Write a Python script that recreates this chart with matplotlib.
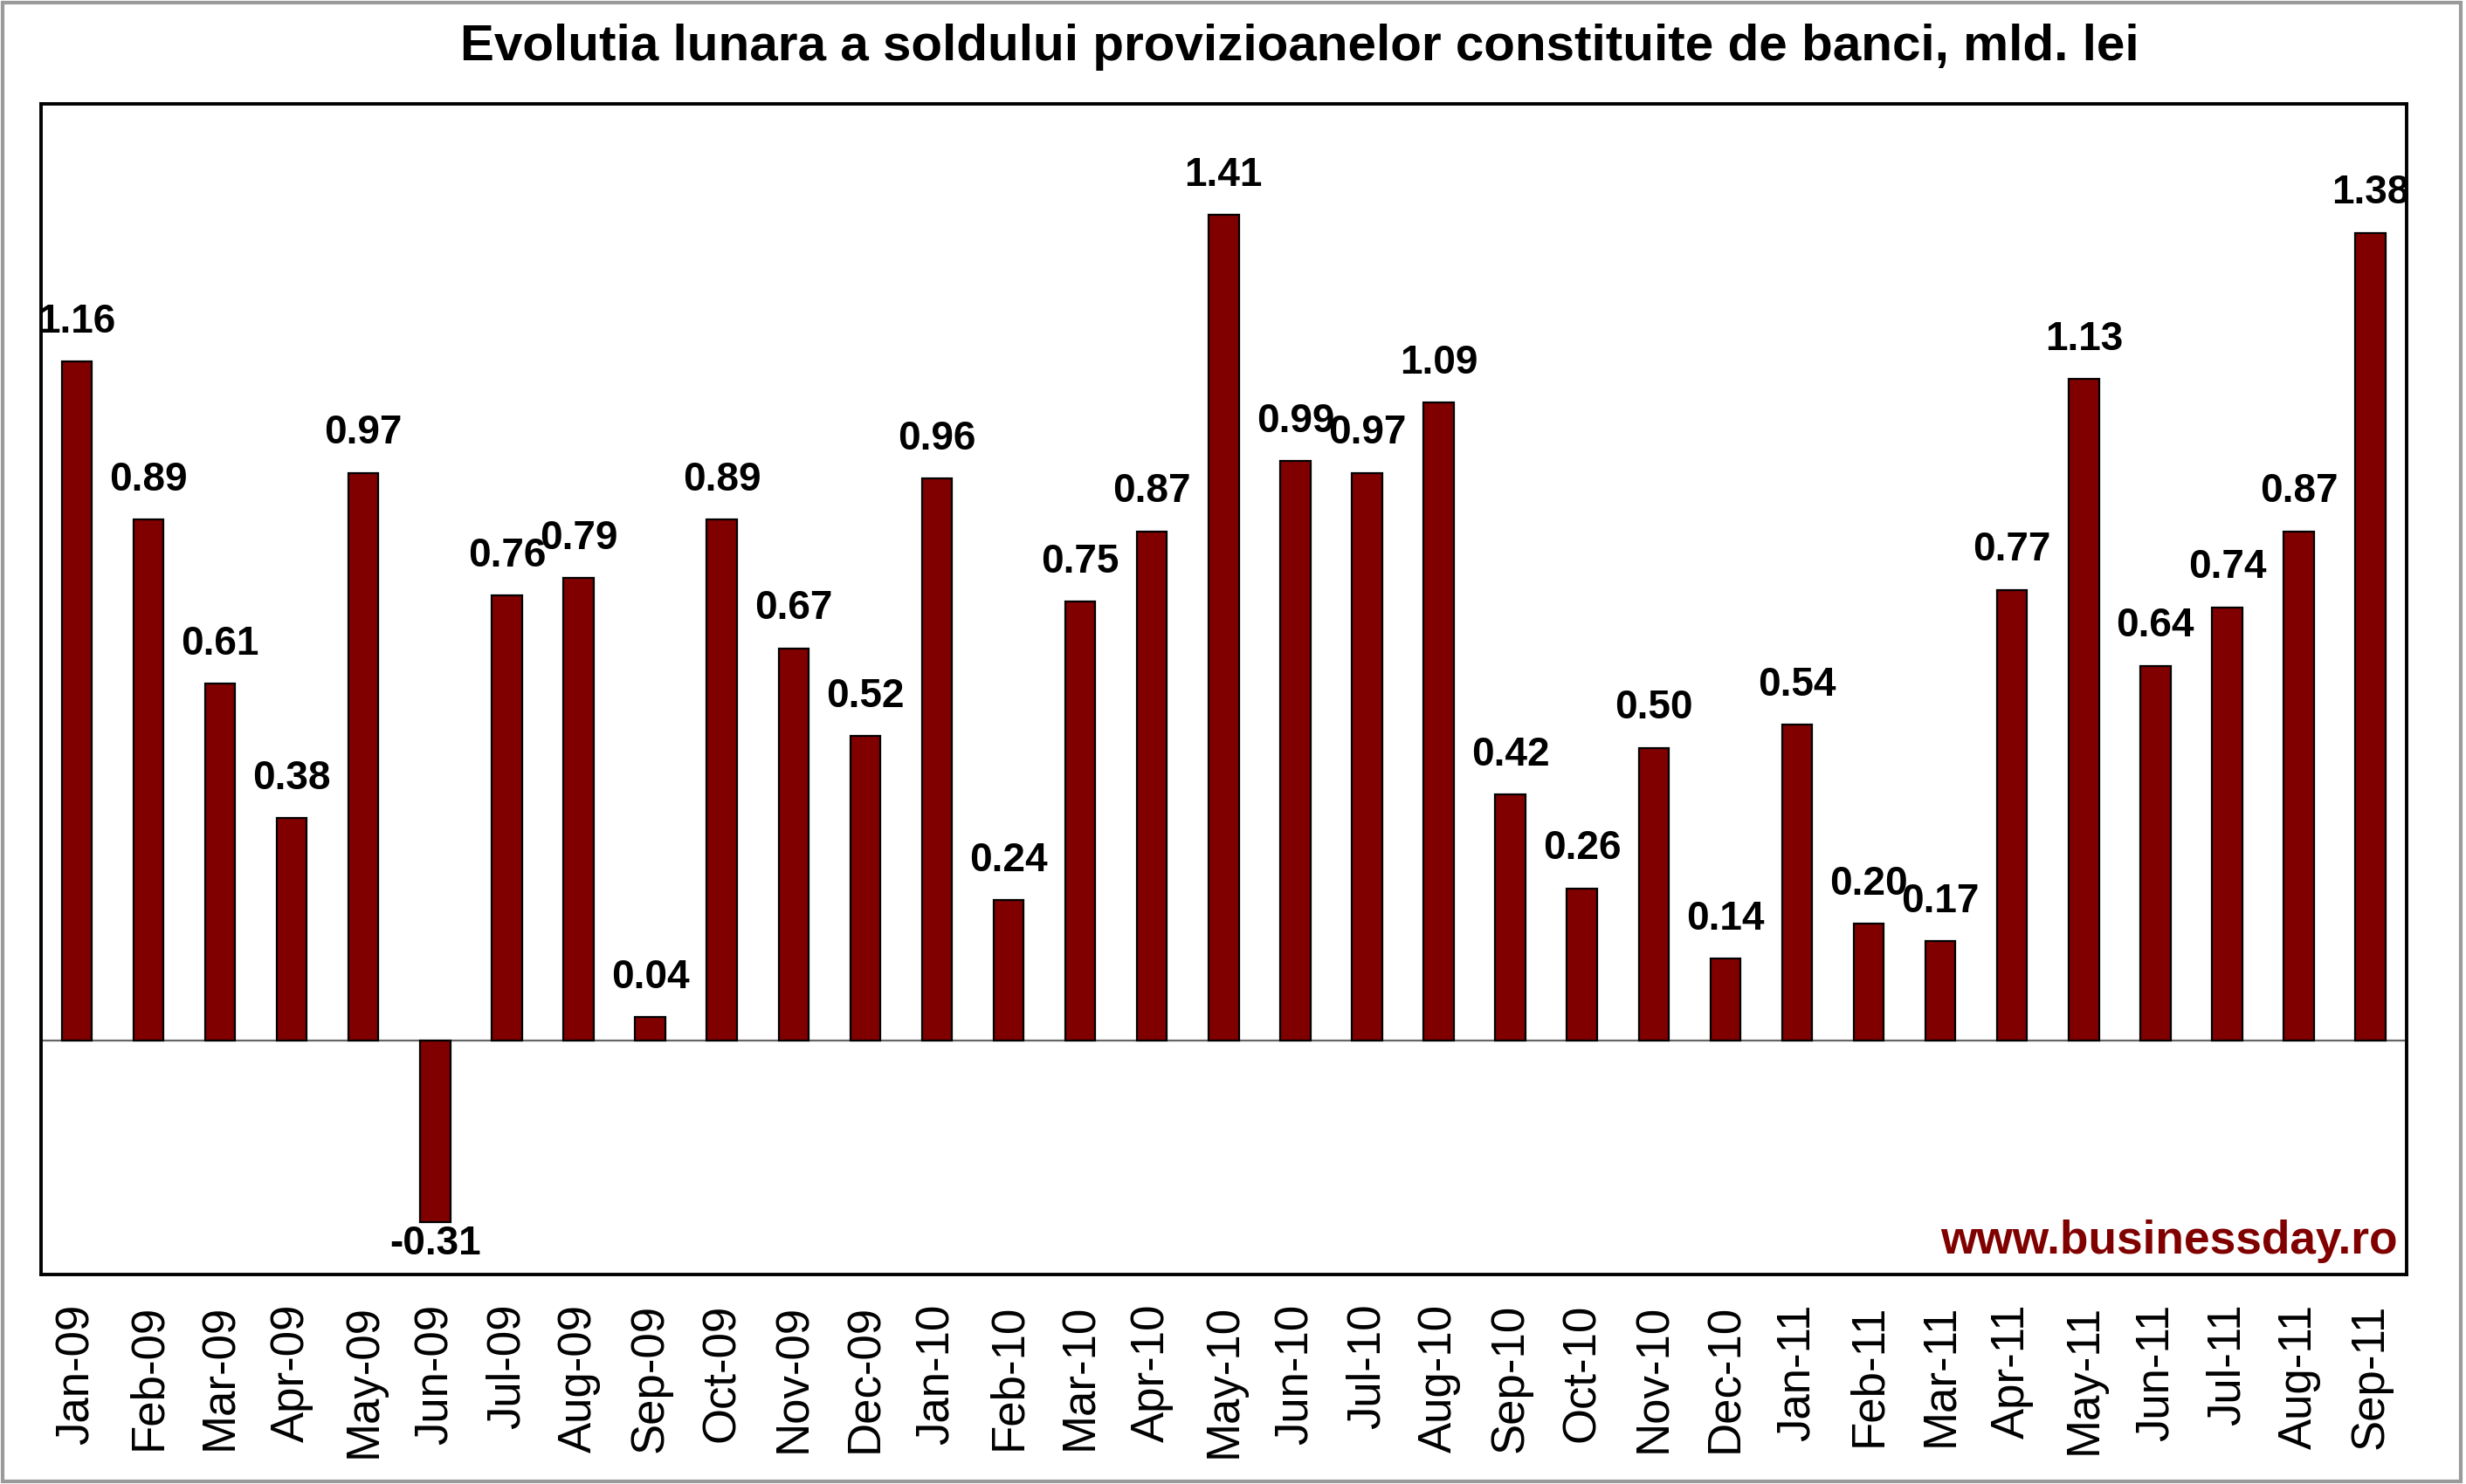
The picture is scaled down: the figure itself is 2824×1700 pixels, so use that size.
import matplotlib
matplotlib.use("Agg")
import matplotlib.pyplot as plt
from matplotlib.patches import Rectangle

plt.rcParams['font.family'] = ['Liberation Sans', 'DejaVu Sans']

# date
luni = ['Jan-09', 'Feb-09', 'Mar-09', 'Apr-09', 'May-09', 'Jun-09', 'Jul-09', 'Aug-09',
        'Sep-09', 'Oct-09', 'Nov-09', 'Dec-09', 'Jan-10', 'Feb-10', 'Mar-10', 'Apr-10',
        'May-10', 'Jun-10', 'Jul-10', 'Aug-10', 'Sep-10', 'Oct-10', 'Nov-10', 'Dec-10',
        'Jan-11', 'Feb-11', 'Mar-11', 'Apr-11', 'May-11', 'Jun-11', 'Jul-11', 'Aug-11',
        'Sep-11']
provizioane = [1.16, 0.89, 0.61, 0.38, 0.97, -0.31, 0.76, 0.79,
               0.04, 0.89, 0.67, 0.52, 0.96, 0.24, 0.75, 0.87,
               1.41, 0.99, 0.97, 1.09, 0.42, 0.26, 0.50, 0.14,
               0.54, 0.20, 0.17, 0.77, 1.13, 0.64, 0.74, 0.87,
               1.38]

fig = plt.figure(figsize=(14.12, 8.5), dpi=200)
ax = fig.add_axes([0.0166, 0.141, 0.9592, 0.789])

x = list(range(len(luni)))
bars = ax.bar(x, provizioane, width=0.42, color='#800000', edgecolor='black', linewidth=0.8, zorder=3)
ax.axhline(0, color='#666666', linewidth=0.8, zorder=2)

# etichete cu valori
for xi, v in zip(x, provizioane):
    if v >= 0:
        ax.annotate(f"{v:.2f}", (xi, v), xytext=(0, 12), textcoords='offset points',
                    ha='center', va='baseline', fontsize=16.5, fontweight='bold', zorder=4)
    else:
        ax.annotate(f"{v:.2f}", (xi, v), xytext=(0, -1), textcoords='offset points',
                    ha='center', va='top', fontsize=16.5, fontweight='bold', zorder=4)

ax.set_xlim(-0.5, len(luni) - 0.5)
ax.set_ylim(-0.4, 1.6)
ax.set_yticks([])
ax.set_xticks(x)
ax.set_xticklabels(luni, rotation=90, fontsize=19)
ax.tick_params(axis='x', length=0, pad=12)
for s in ax.spines.values():
    s.set_linewidth(1.4)
    s.set_color('black')

ax.text(0.9965, 0.018, 'www.businessday.ro', transform=ax.transAxes, ha='right', va='baseline',
        fontsize=19.2, fontweight='bold', color='#800000')

fig.text(0.527, 0.968, 'Evolutia lunara a soldului provizioanelor constituite de banci, mld. lei',
         ha='center', va='center', fontsize=21, fontweight='bold')

# chenar exterior
fig.patches.append(Rectangle((0.001, 0.002), 0.997, 0.996, transform=fig.transFigure,
                             fill=False, edgecolor='#9a9a9a', linewidth=1.5))

fig.savefig('out.png', dpi=200)
